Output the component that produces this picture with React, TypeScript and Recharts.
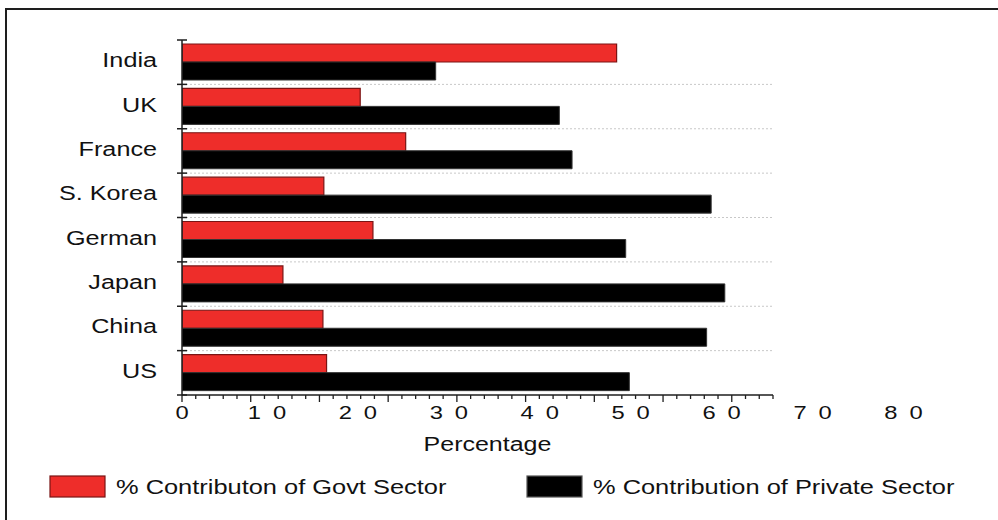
import React from "react";
import { BarChart, Bar, XAxis, YAxis, CartesianGrid, Legend } from "recharts";

const countries = ["India", "UK", "France", "S. Korea", "German", "Japan", "China", "US"];
const govtShare = [47.8, 19.6, 24.6, 15.6, 21.0, 11.1, 15.5, 15.9];
const privateShare = [27.9, 41.5, 42.9, 58.2, 48.8, 59.7, 57.7, 49.2];
const percentTicks = [0, 10, 20, 30, 40, 50, 60, 70, 80];
// ruler marks under the axis: 43 small steps, every 5th one longer
const rulerTicks = Array.from({ length: 44 }, (_, i) => i);

const GOVT_NAME = "% Contributon of Govt Sector";
const PRIVATE_NAME = "% Contribution of Private Sector";

const data = countries.map((country, i) => ({
  country,
  govt: govtShare[i],
  private: privateShare[i],
}));

const FONT = "Arial, 'Liberation Sans', sans-serif";
const WIDTH = 998;
const HEIGHT = 520;
const PLOT_TOP = 40;
const PLOT_BOTTOM = 395;
const BAND = (PLOT_BOTTOM - PLOT_TOP) / countries.length;
const INK = "#1e1e1e";

const gridLines = countries.slice(1).map((_, i) => PLOT_TOP + (i + 1) * BAND);

function CountryTick({ x, y, payload, index }: any) {
  const last = index === countries.length - 1;
  return (
    <g>
      <line x1={x - 5} x2={x + 5} y1={y - BAND / 2} y2={y - BAND / 2} stroke={INK} strokeWidth={1.5} />
      {last && (
        <line x1={x - 5} x2={x + 5} y1={y + BAND / 2} y2={y + BAND / 2} stroke={INK} strokeWidth={1.5} />
      )}
      <text
        transform={`translate(${x - 25},${y + 5}) scale(1.2,1)`}
        textAnchor="end"
        fontSize={21}
        fontFamily={FONT}
        fill="#111"
      >
        {payload.value}
      </text>
    </g>
  );
}

function PercentTick({ x, y, payload }: any) {
  const label = String(payload.value);
  return (
    <text
      transform={`translate(${x},${y + 23}) scale(1.25,1)`}
      textAnchor="middle"
      fontSize={19}
      fontFamily={FONT}
      letterSpacing={label.length > 1 ? 9.5 : 0}
      fill="#111"
    >
      {label}
    </text>
  );
}

function RulerTick({ x, y, payload }: any) {
  const major = payload.value % 5 === 0;
  return <line x1={x} x2={x} y1={y} y2={y + (major ? 7 : 4)} stroke={INK} strokeWidth={1.3} />;
}

function AxisTitle({ viewBox }: any) {
  const cx = viewBox.x + viewBox.width / 2 + 10;
  return (
    <text
      transform={`translate(${cx},${viewBox.y + 55}) scale(1.25,1)`}
      textAnchor="middle"
      fontSize={20}
      fontFamily={FONT}
      fill="#111"
    >
      Percentage
    </text>
  );
}

const LEGEND_SLOT: Record<string, { x: number; stroke: string }> = {
  govt: { x: 50, stroke: "#7a1414" },
  private: { x: 527, stroke: "#555" },
};

function LegendRow({ payload }: any) {
  return (
    <svg width={WIDTH} height={36}>
      {(payload || []).map((entry: any) => {
        const slot = LEGEND_SLOT[entry.dataKey];
        if (!slot) return null;
        return (
          <g key={entry.dataKey}>
            <rect
              x={slot.x}
              y={8}
              width={55}
              height={21}
              fill={entry.color}
              stroke={slot.stroke}
              strokeWidth={1.2}
            />
            <text
              transform={`translate(${slot.x + 66},26) scale(1.27,1)`}
              fontSize={20}
              fontFamily={FONT}
              fill="#111"
            >
              {entry.value}
            </text>
          </g>
        );
      })}
    </svg>
  );
}

export default function App() {
  return (
    <div
      style={{
        position: "fixed",
        left: 0,
        top: 0,
        width: WIDTH,
        height: HEIGHT,
        overflow: "hidden",
        background: "#fff",
      }}
    >
      <div
        style={{
          position: "absolute",
          left: 5,
          top: 8,
          width: 1200,
          height: 800,
          border: `2px solid ${INK}`,
        }}
      />
      <div style={{ position: "absolute", left: 0, top: 0 }}>
        <BarChart
          width={WIDTH}
          height={HEIGHT}
          data={data}
          layout="vertical"
          barSize={18}
          barGap={0}
          margin={{ top: PLOT_TOP, right: 225, left: 12, bottom: 18 }}
        >
          <CartesianGrid
            xAxisId="pct"
            horizontal
            vertical={false}
            horizontalPoints={gridLines}
            stroke="#c8c8c8"
            strokeDasharray="2 2"
          />
          {/* ruler axis sits directly on the plot edge and carries the axis line */}
          <XAxis
            type="number"
            domain={[0, 43]}
            allowDataOverflow
            ticks={rulerTicks}
            interval={0}
            tick={<RulerTick />}
            tickLine={false}
            tickSize={0}
            tickMargin={0}
            height={1}
            axisLine={{ stroke: INK, strokeWidth: 1.5 }}
          />
          <XAxis
            xAxisId="pct"
            type="number"
            domain={[0, 65]}
            allowDataOverflow
            ticks={percentTicks}
            interval={0}
            tick={<PercentTick />}
            tickLine={false}
            tickSize={0}
            tickMargin={0}
            axisLine={false}
            height={70}
            label={<AxisTitle />}
          />
          <YAxis
            type="category"
            dataKey="country"
            width={170}
            tick={<CountryTick />}
            tickLine={false}
            tickSize={0}
            tickMargin={0}
            axisLine={{ stroke: INK, strokeWidth: 1.5 }}
          />
          <Legend
            verticalAlign="bottom"
            content={<LegendRow />}
            wrapperStyle={{ top: 468, left: 0, width: WIDTH, height: 36 }}
          />
          <Bar
            xAxisId="pct"
            dataKey="govt"
            name={GOVT_NAME}
            fill="#ee2d2a"
            stroke="#7a1414"
            strokeWidth={1.2}
            isAnimationActive={false}
          />
          <Bar
            xAxisId="pct"
            dataKey="private"
            name={PRIVATE_NAME}
            fill="#000"
            stroke="#333"
            strokeWidth={1}
            isAnimationActive={false}
          />
        </BarChart>
      </div>
    </div>
  );
}
